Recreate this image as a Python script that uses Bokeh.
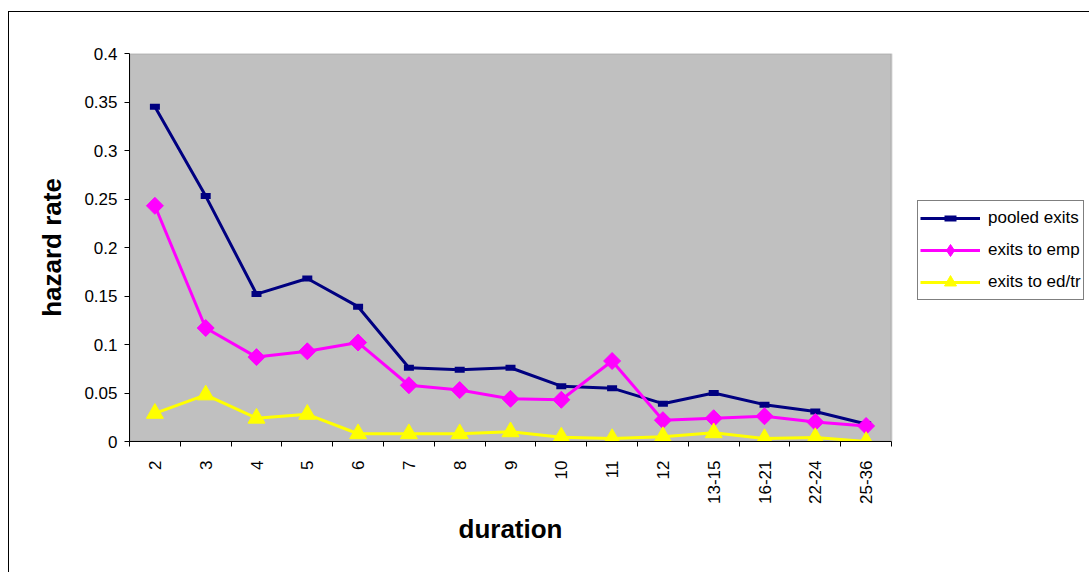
import math

from bokeh.embed import file_html
from bokeh.models import (BoxAnnotation, ColumnDataSource, CustomJSTickFormatter,
                          FixedTicker, Legend, LegendItem, Range1d, Title)
from bokeh.plotting import figure
from bokeh.resources import INLINE

# Hazard rates by unemployment duration (months)
durations = ["2", "3", "4", "5", "6", "7", "8", "9", "10", "11", "12",
             "13-15", "16-21", "22-24", "25-36"]
pooled_exits = [0.345, 0.253, 0.152, 0.168, 0.139, 0.076, 0.074, 0.076,
                0.057, 0.055, 0.039, 0.050, 0.038, 0.031, 0.018]
exits_to_emp = [0.243, 0.117, 0.087, 0.093, 0.102, 0.058, 0.053, 0.044,
                0.043, 0.083, 0.022, 0.024, 0.026, 0.020, 0.016]
exits_to_edtr = [0.029, 0.048, 0.024, 0.028, 0.008, 0.008, 0.008, 0.010,
                 0.0045, 0.003, 0.005, 0.009, 0.003, 0.004, 0.0]
y_ticks = [0, 0.05, 0.1, 0.15, 0.2, 0.25, 0.3, 0.35, 0.4]

FONT = "Liberation Sans"
NAVY = "#000080"
MAGENTA = "#FF00FF"
YELLOW = "#FFFF00"

n = len(durations)
pos = list(range(1, n + 1))
src = ColumnDataSource(dict(x=pos, pooled=pooled_exits, emp=exits_to_emp,
                            edtr=exits_to_edtr))

# The frame runs to the right edge so the legend can sit beside the
# grey plotting area; the category axis is bounded to the 15 categories.
W, H = 1081, 561
LEFT, TOP, BOTTOM = 120, 41, 132
plot_px = 762
frame_px = W - LEFT
x_end = 0.5 + n * frame_px / plot_px

p = figure(width=W, height=H,
           x_range=Range1d(0.5, x_end), y_range=Range1d(0, 0.4),
           output_backend="svg", toolbar_location=None,
           min_border_left=LEFT, min_border_right=0,
           min_border_top=TOP, min_border_bottom=BOTTOM)
p.styles = {"margin-left": "8px", "margin-top": "11px",
            "border-left": "1px solid black", "border-top": "1px solid black"}

p.background_fill_color = "white"
p.border_fill_color = "white"
p.outline_line_color = None
p.grid.visible = False

area = BoxAnnotation(left=0.5, right=n + 0.5, bottom=0, top=0.4,
                     fill_color="#C0C0C0", fill_alpha=1,
                     line_color="#808080", line_width=2, level="underlay")
p.add_layout(area)

# y axis
ya = p.yaxis[0]
ya.ticker = FixedTicker(ticks=y_ticks)
ya.formatter = CustomJSTickFormatter(code="return (+tick.toFixed(2)).toString()")
ya.axis_label = "hazard rate"
ya.axis_label_text_font = FONT
ya.axis_label_text_font_style = "bold"
ya.axis_label_text_font_size = "26px"
ya.axis_label_text_color = "black"
ya.axis_label_standoff = 14
ya.major_label_text_font = FONT
ya.major_label_text_font_size = "17px"
ya.major_label_text_color = "black"
ya.major_label_standoff = 7
ya.major_tick_out = 5
ya.major_tick_in = 0
ya.minor_tick_out = 0
ya.minor_tick_in = 0
ya.axis_line_color = "black"

# x axis: labels at category centres, tick marks between categories
xa = p.xaxis[0]
xa.bounds = (0.5, n + 0.5)
xa.ticker = FixedTicker(ticks=pos, minor_ticks=[i + 0.5 for i in range(n + 1)])
xa.major_label_overrides = {i: lab for i, lab in zip(pos, durations)}
xa.major_label_orientation = math.pi / 2
xa.major_label_text_font = FONT
xa.major_label_text_font_size = "17px"
xa.major_label_text_color = "black"
xa.major_label_standoff = 14
xa.major_tick_out = 0
xa.major_tick_in = 0
xa.minor_tick_out = 5
xa.minor_tick_in = 0
xa.minor_tick_line_color = "black"
xa.axis_line_color = "black"

# x axis title, centred under the grey plotting area
x_title = Title(text="duration", align="left", offset=329, standoff=10,
                text_font=FONT, text_font_style="bold", text_font_size="26px",
                text_color="black")
p.add_layout(x_title, "below")

l1 = p.line("x", "pooled", source=src, line_color=NAVY, line_width=3)
m1 = p.scatter("x", "pooled", source=src, marker="dash", size=10,
               line_color=NAVY, line_width=6)
l2 = p.line("x", "emp", source=src, line_color=MAGENTA, line_width=3)
m2 = p.scatter("x", "emp", source=src, marker="square", angle=math.pi / 4,
               size=12, fill_color=MAGENTA, line_color=MAGENTA)
l3 = p.line("x", "edtr", source=src, line_color=YELLOW, line_width=3)
m3 = p.scatter("x", "edtr", source=src, marker="triangle", size=17,
               fill_color=YELLOW, line_color=YELLOW)

# legend key for the diamond series (legend keys are drawn unrotated)
key_src = ColumnDataSource(dict(x=[float("nan")], y=[float("nan")]))
k2 = p.scatter("x", "y", source=key_src, marker="diamond", size=12,
               fill_color=MAGENTA, line_color=MAGENTA)

legend = Legend(items=[
    LegendItem(label="pooled exits", renderers=[l1, m1]),
    LegendItem(label="exits to emp", renderers=[l2, k2]),
    LegendItem(label="exits to ed/tr", renderers=[l3, m3]),
], location=(788, 141))
legend.border_line_color = "black"
legend.border_line_width = 1
legend.background_fill_color = "white"
legend.background_fill_alpha = 1
legend.label_text_font = FONT
legend.label_text_font_size = "17px"
legend.label_text_color = "black"
legend.glyph_width = 60
legend.glyph_height = 30
legend.label_height = 30
legend.spacing = 2
legend.padding = 2
legend.margin = 0
legend.label_standoff = 8
p.add_layout(legend)

open("out.html", "w").write(file_html(p, INLINE))
